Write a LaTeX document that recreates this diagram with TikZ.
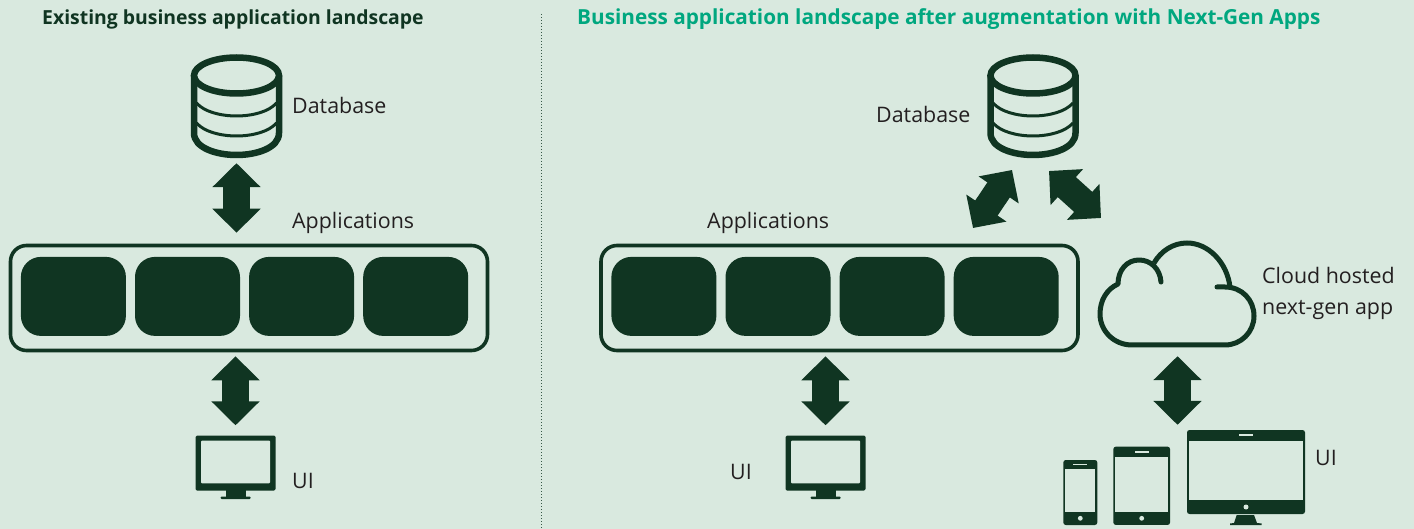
\documentclass[tikz,border=0pt]{standalone}
\usepackage{fontspec}
\setmainfont{Open Sans}
\usetikzlibrary{positioning,arrows.meta}
\definecolor{bggreen}{HTML}{D9E9DF}
\definecolor{darkgreen}{HTML}{103522}
\definecolor{headgreen}{HTML}{00A77F}
\definecolor{labelgray}{HTML}{231F20}
\tikzset{
  label text/.style={inner sep=0pt, text=labelgray, font=\fontsize{21.4}{26}\selectfont},
  head text/.style={inner sep=0pt, anchor=base west, font=\bfseries},
  tile/.style={fill=darkgreen, rounded corners=20pt, minimum width=105pt, minimum height=79pt, inner sep=0pt},
  appbox/.style={draw=darkgreen, line width=3.6pt, rounded corners=16pt, minimum width=477pt, minimum height=105pt, inner sep=0pt},
  iconbox/.style={minimum width=#1, inner sep=0pt},
  device/.style={fill=darkgreen, rounded corners=2.5pt, inner sep=0pt},
  screen/.style={fill=bggreen, inner sep=0pt},
  bigarrow/.style={darkgreen, line width=27pt, {Triangle[length=24pt,width=47pt]}-{Triangle[length=24pt,width=47pt]}}
}
% database drum round a node
\newcommand{\dbicon}[1]{
  \begin{scope}[shift={(#1.center)}, darkgreen]
    \draw[line width=6.5pt] (0,-30.5) ellipse (42.5 and 18);
    \draw[line width=6.5pt] (-42.5,-30) -- (-42.5,27) .. controls (-42.5,42) and (-20,49) .. (0,49)
      .. controls (20,49) and (42.5,42) .. (42.5,27) -- (42.5,-30);
    \draw[line width=3pt] (-40,-3) .. controls (-25,14.3) and (25,14.3) .. (40,-3);
    \draw[line width=3pt] (-40,17) .. controls (-25,34.3) and (25,34.3) .. (40,17);
  \end{scope}
}
% desktop screen round a node
\newcommand{\monitoricon}[1]{
  \begin{scope}[shift={(#1.center)}]
    \fill[darkgreen, rounded corners=1.5pt] (-40,-31.5) rectangle (40,23.7);
    \fill[bggreen, rounded corners=1pt] (-34.5,-26.5) rectangle (34.5,16.3);
    \fill[darkgreen] (-10,23) rectangle (10,30);
    \fill[darkgreen, rounded corners=1pt] (-15,29.5) rectangle (15,32);
  \end{scope}
}
\newcommand{\appstrip}[2]{
  \node[appbox] (#1) at (#2) {};
  \node[tile, anchor=west] (#1a) at ([xshift=12pt, yshift=1.6pt]#1.west) {};
  \node[tile, right=8.7pt of #1a] (#1b) {};
  \node[tile, right=8.7pt of #1b] (#1c) {};
  \node[tile, right=8.7pt of #1c] (#1d) {};
}
\begin{document}
\begin{tikzpicture}[x=1pt, y=-1pt]
  \useasboundingbox[fill=bggreen] (0,0) rectangle (1414,529);
  \draw[darkgreen!80!bggreen, line width=1pt, dash pattern=on 1pt off 2pt] (541,14) -- (541,529);

  \node[head text, text=darkgreen, font=\fontsize{19.4}{24}\selectfont\bfseries] (headleft) at (42,25) {Existing business application landscape};
  \node[head text, text=headgreen, font=\fontsize{20.75}{24}\selectfont\bfseries] (headright) at (577,25) {Business application landscape after augmentation with Next-Gen Apps};

  % left side
  \node[iconbox=91pt, minimum height=104pt] (db1) at (236.5,106) {};
  \dbicon{db1}
  \appstrip{apps1}{249,298}
  \node[iconbox=80pt, minimum height=63pt] (ui1) at (235.5,467) {};
  \monitoricon{ui1}
  \node[label text, anchor=base west] (dblabel1) at (292,114) {Database};
  \node[label text, anchor=base west] (appslabel1) at (292,229) {Applications};
  \node[label text, anchor=base west] (uilabel1) at (292,488) {UI};
  \draw[bigarrow, shorten <=5pt, shorten >=11pt] (db1.south) -- (db1.south |- apps1.north);
  \draw[bigarrow, shorten <=4pt, shorten >=10pt] (ui1.north |- apps1.south) -- (ui1.north);

  % right side
  \node[iconbox=91pt, minimum height=104pt] (db2) at (1033,106) {};
  \dbicon{db2}
  \appstrip{apps2}{839.5,298}
  \node[iconbox=80pt, minimum height=63pt] (ui2) at (825.5,467) {};
  \monitoricon{ui2}
  \node[label text, anchor=base west] (dblabel2) at (876,123) {Database};
  \node[label text, anchor=base west] (appslabel2) at (707,229) {Applications};
  \node[label text, anchor=base west] (uilabel2) at (730,479) {UI};
  \draw[bigarrow, shorten <=4pt, shorten >=10pt] (ui2.north |- apps2.south) -- (ui2.north);

  % cloud
  \node[minimum width=158pt, minimum height=106pt, inner sep=0pt] (cloud) at (1177.5,294) {};
  \draw[darkgreen, line width=5pt, line cap=round, line join=round]
    (1161,282) .. controls (1160,269) and (1151,260) .. (1139,260)
    .. controls (1127,260) and (1118,270) .. (1118,284)
    .. controls (1107,289) and (1100,300) .. (1100,314)
    .. controls (1100,331) and (1114,345) .. (1132,345) -- (1225,345)
    .. controls (1241,345) and (1254,332) .. (1254,316)
    .. controls (1254,300) and (1242,287) .. (1225,287) -- (1217,287);
  \draw[darkgreen, line width=5pt]
    (1230,287) .. controls (1227,262) and (1208,243) .. (1187,243)
    .. controls (1173,243) and (1161,251) .. (1154,263);
  \node[label text, anchor=base west] (cloudlabel1) at (1262,284) {Cloud hosted};
  \node[label text, anchor=base west] (cloudlabel2) at (1262,315) {next-gen app};

  % the devices
  \node[device, minimum width=118pt, minimum height=84pt] (desk) at (1246,472) {};
  \node[screen, minimum width=114pt, minimum height=59.3pt] (deskscreen) at (1246.3,470.3) {};
  \fill[bggreen] (1239,434.3) rectangle (1252.7,435.8);
  \fill[bggreen] (1246,507) circle (2.5);
  \fill[darkgreen] (1236.7,515) -- (1254,515) -- (1257,523) -- (1261.7,523.5) -- (1261.7,525) -- (1230,525) -- (1230,523.5) -- (1234,523) -- cycle;
  \node[device, minimum width=56.7pt, minimum height=78.3pt] (tablet) at (1141.7,485.8) {};
  \node[screen, minimum width=52.7pt, minimum height=54.7pt] (tabletscreen) at (1141.7,484.7) {};
  \fill[bggreen] (1135,451.3) rectangle (1148.7,452.8);
  \fill[bggreen] (1141.7,518.3) circle (2.4);
  \node[device, minimum width=34pt, minimum height=65pt] (phone) at (1080.3,492.5) {};
  \node[screen, minimum width=30pt, minimum height=42.7pt] (phonescreen) at (1080.3,490.7) {};
  \fill[bggreen] (1073.3,464) rectangle (1087.3,465.4);
  \fill[bggreen] (1080.3,518.3) circle (2.4);
  \node[label text, anchor=base west] (uilabel3) at (1315,465) {UI};
  \draw[bigarrow, shorten <=9pt, shorten >=5pt] (cloud.south) -- (cloud.south |- desk.north);

  % arrows from the second database
  \coordinate (dbout1) at (1012,170);
  \coordinate (appsout) at (973,228);
  \coordinate (dbout2) at (1049,171);
  \coordinate (cloudout) at (1101,218);
  \draw[bigarrow] (appsout) -- (dbout1);
  \draw[bigarrow] (dbout2) -- (cloudout);
\end{tikzpicture}
\end{document}
